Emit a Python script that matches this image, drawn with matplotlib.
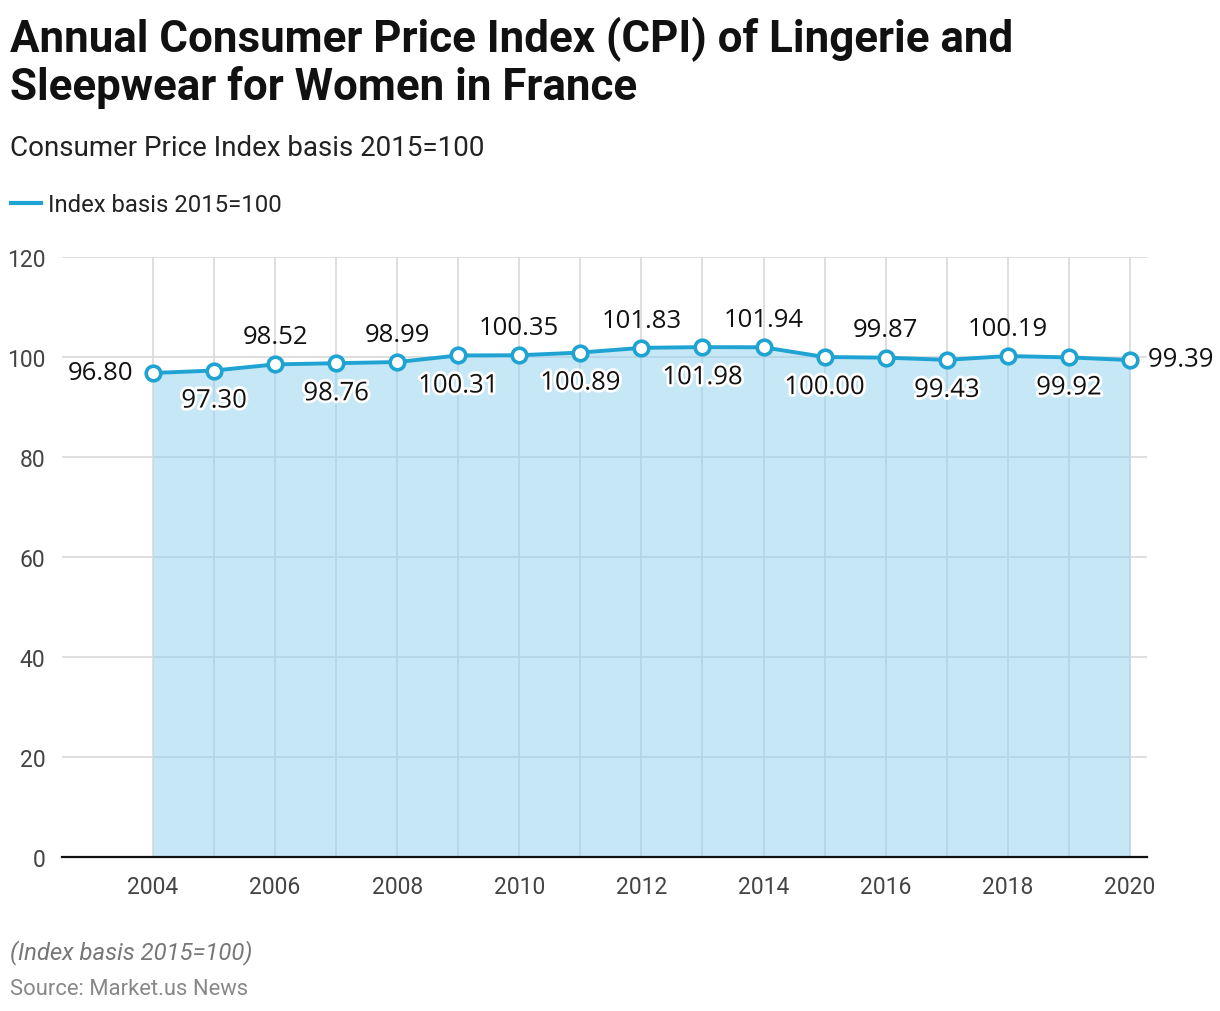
import matplotlib.pyplot as plt
import matplotlib.patheffects as pe

years = list(range(2004, 2021))
cpi = [96.80, 97.30, 98.52, 98.76, 98.99, 100.31, 100.35, 100.89, 101.83,
       101.98, 101.94, 100.00, 99.87, 99.43, 100.19, 99.92, 99.39]
label_pos = ['left', 'below', 'above', 'below', 'above', 'below', 'above', 'below',
             'above', 'below', 'above', 'below', 'above', 'below', 'above', 'below', 'right']
y_ticks = [0, 20, 40, 60, 80, 100, 120]
x_labels = list(range(2004, 2021, 2))

line_color = '#1fa3d2'
W, H = 1220, 1012

fig = plt.figure(figsize=(W / 100, H / 100), dpi=100)
ax = fig.add_axes([62 / W, (H - 858) / H, (1147 - 62) / W, 600 / H])

ax.set_xlim(2002.51, 2020.28)
ax.set_ylim(0, 120)

# grid
for y in y_ticks[1:]:
    ax.axhline(y, color='#d9d9d9', lw=1.2, zorder=0)
for x in years:
    ax.axvline(x, color='#d9d9d9', lw=1.2, zorder=0)

ax.fill_between(years, cpi, 0, color=(141 / 255, 209 / 255, 239 / 255), alpha=0.5, lw=0, zorder=1)
ax.plot(years, cpi, color=line_color, lw=2.8, marker='o', ms=10.5,
        mfc='white', mec=line_color, mew=2.6, zorder=3, clip_on=False)

for spine in ['top', 'right', 'left']:
    ax.spines[spine].set_visible(False)
ax.spines['bottom'].set_color('#111111')
ax.spines['bottom'].set_linewidth(1.6)
ax.spines['bottom'].set_zorder(4)

ax.set_yticks(y_ticks)
ax.set_xticks(x_labels)
ax.tick_params(length=0, labelsize=16.5, labelcolor='#444444')
for t in ax.get_yticklabels() + ax.get_xticklabels():
    t.set_fontfamily('Roboto')
ax.tick_params(axis='y', pad=12)
ax.tick_params(axis='x', pad=13)

stroke = [pe.withStroke(linewidth=4, foreground='white')]
for x, v, p in zip(years, cpi, label_pos):
    txt = f'{v:.2f}'
    kw = dict(fontsize=18.5, fontfamily='Open Sans', color='#111111', zorder=5)
    if p == 'above':
        ax.annotate(txt, (x, v), xytext=(0, 20), textcoords='offset points',
                    ha='center', va='center', **kw)
    elif p == 'below':
        ax.annotate(txt, (x, v), xytext=(0, -22), textcoords='offset points',
                    ha='center', va='center', path_effects=stroke, **kw)
    elif p == 'left':
        ax.annotate(txt, (x, v), xytext=(-14, 0), textcoords='offset points',
                    ha='right', va='center', **kw)
    else:
        ax.annotate(txt, (x, v), xytext=(13, 0), textcoords='offset points',
                    ha='left', va='center', path_effects=stroke, **kw)

fig.text(10 / W, 1 - 17 / H, 'Annual Consumer Price Index (CPI) of Lingerie and\nSleepwear for Women in France',
         fontsize=31.6, fontweight='bold', fontfamily='Roboto', color='#111111',
         ha='left', va='top', linespacing=1.12)
fig.text(10 / W, 1 - 149 / H, 'Consumer Price Index basis 2015=100', fontsize=20,
         fontfamily='Roboto', color='#222222', ha='left', va='center')

fig.add_artist(plt.Line2D([11 / W, 41 / W], [1 - 204 / H, 1 - 204 / H], color=line_color, lw=3))
fig.text(48 / W, 1 - 206 / H, 'Index basis 2015=100', fontsize=17.2, fontfamily='Roboto',
         color='#222222', ha='left', va='center')

fig.text(10 / W, 1 - 953 / H, '(Index basis 2015=100)', fontsize=17.2, fontstyle='italic',
         fontfamily='Roboto', color='#777777', ha='left', va='center')
fig.text(10 / W, 1 - 990 / H, 'Source: Market.us News', fontsize=15.8,
         fontfamily='Roboto', color='#888888', ha='left', va='center')

fig.savefig('out.png', dpi=100)
